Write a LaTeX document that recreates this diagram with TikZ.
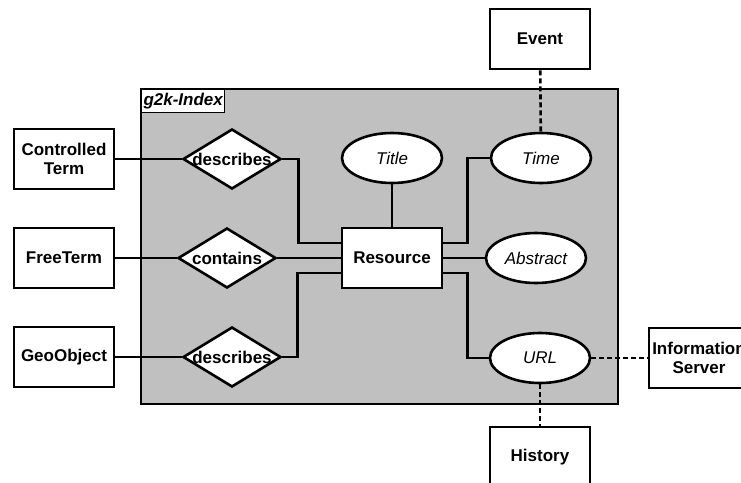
\documentclass[tikz,border=0pt]{standalone}
\usepackage{fontspec}
\setmainfont{Liberation Sans}
\usetikzlibrary{shapes.geometric,positioning}

\begin{document}
\begin{tikzpicture}[
    x=1pt, y=-1pt,
    entity/.style={draw, line width=2.6pt, fill=white, minimum width=100pt, minimum height=60pt, inner sep=0pt, align=center, font=\fontsize{17}{19}\selectfont\bfseries},
    attr/.style={draw, ellipse, line width=2.6pt, fill=white, minimum width=100pt, minimum height=50pt, inner sep=0pt, font=\fontsize{17}{19}\selectfont\itshape},
    rel/.style={draw, diamond, line width=2.6pt, fill=white, shape aspect=1.63, minimum width=98pt, minimum height=60pt, inner sep=-4pt, font=\fontsize{17}{19}\selectfont\bfseries},
    conn/.style={line width=2.6pt},
    link/.style={line width=2.6pt, dash pattern=on 5pt off 3pt}
]
\useasboundingbox (0,0) rectangle (741,482);

% index area
\draw[line width=2.6pt, fill={rgb,255:red,192;green,192;blue,192}] (141,89) rectangle (618,404);
\node[draw, line width=1pt, fill=white, anchor=north west, minimum width=81pt, minimum height=23pt, inner sep=2pt, font=\fontsize{17}{19}\selectfont\bfseries\itshape] (idx) at (141,89) {g2k-Index};

\node[entity] (cterm) at (64,159) {Controlled\\Term};
\node[entity] (fterm) at (64,258) {FreeTerm};
\node[entity] (geo) at (64,357) {GeoObject};
\node[entity] (res) at (392,258) {Resource};
\node[entity] (event) at (540,39) {Event};
\node[entity] (hist) at (540,457) {History};
\node[entity] (infsrv) at (699,358) {Information\\Server};

\node[rel] (desc1) at (232,159) {describes};
\node[rel] (cont) at (227,258) {contains};
\node[rel] (desc2) at (232,357) {describes};

\node[attr] (title) at (392,158) {Title};
\node[attr] (time) at (541,158) {Time};
\node[attr] (abstr) at (536,258) {Abstract};
\node[attr] (url) at (540,358) {URL};

\draw[conn] (cterm) -- (desc1);
\draw[conn] (fterm) -- (cont);
\draw[conn] (geo) -- (desc2);
\draw[conn] (desc1.east) -- ++(16,0) |- ([yshift=15pt]res.west);
\draw[conn] (cont) -- (res);
\draw[conn] (desc2.east) -- ++(15,0) |- ([yshift=-15pt]res.west);
\draw[conn] (title) -- (res);
\draw[conn] ([yshift=15pt]res.east) -- ++(24,0) |- (time.west);
\draw[conn] (res) -- (abstr);
\draw[conn] ([yshift=-15pt]res.east) -- ++(24,0) |- (url.west);

\draw[link] (event) -- (time);
\draw[link] (url) -- (infsrv);
\draw[link] (url) -- (hist);
\end{tikzpicture}
\end{document}
